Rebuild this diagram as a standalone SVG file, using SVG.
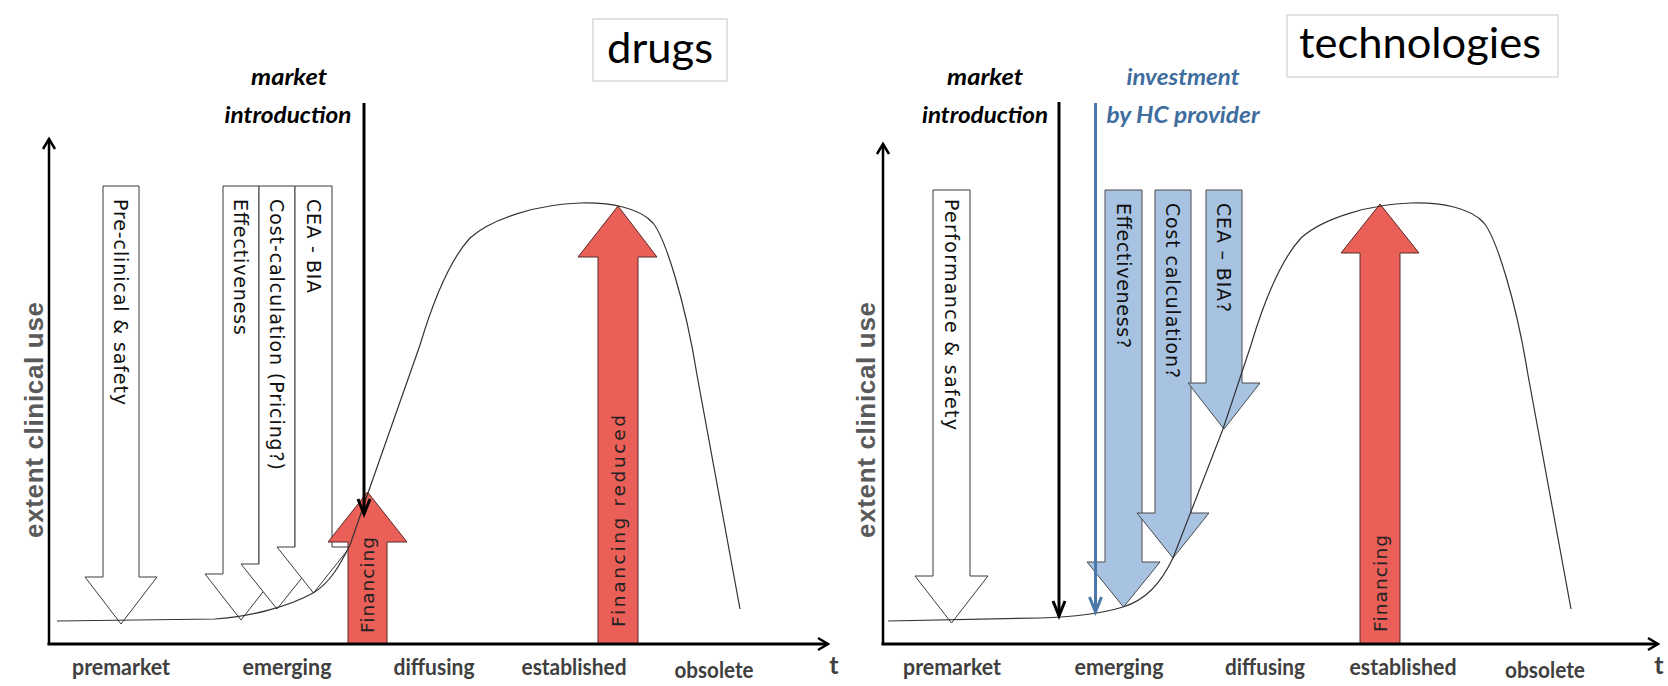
<svg xmlns="http://www.w3.org/2000/svg" width="1668" height="686" viewBox="0 0 1668 686">
<style>
.bg{fill:#fff}
.hollow{fill:#fff;stroke:#3a3a3a;stroke-width:1}
.blue{fill:#a7c3e1;stroke:#4a4a4a;stroke-width:1}
.red{fill:#ea5f58;stroke:#5a2a27;stroke-width:1}
.curve{fill:none;stroke:#333;stroke-width:1.2}
.axis{fill:none;stroke:#000;stroke-width:3}
.yaxis{fill:none;stroke:#000;stroke-width:2.5}
.intro{fill:none;stroke:#000;stroke-width:3}
.hc{fill:none;stroke:#4a78aa;stroke-width:3}
.vt{font-family:"DejaVu Sans","Liberation Sans",sans-serif;font-size:19px;fill:#111}
.ft{font-family:"DejaVu Sans","Liberation Sans",sans-serif;font-size:18.5px;fill:#222}
.lbl{font-family:Lato,"Liberation Sans",sans-serif;font-weight:bold;font-size:23px;fill:#404040;text-anchor:middle}
.ylbl{font-family:"Liberation Sans",Arial,sans-serif;font-weight:bold;font-size:26px;fill:#5a5a5a;text-anchor:middle}
.mi{font-family:Lato,"Liberation Sans",sans-serif;font-weight:bold;font-style:italic;font-size:23px;fill:#000;text-anchor:middle}
.mib{fill:#3e6d9e}
.title{font-family:Lato,"Liberation Sans",sans-serif;font-size:42px;fill:#000;text-anchor:middle}
.tbox{fill:#fff;stroke:#d9d9d9;stroke-width:1.5}
</style>
<defs>
<marker id="chevAxis" markerUnits="userSpaceOnUse" orient="auto" overflow="visible" markerWidth="1" markerHeight="1" refX="0" refY="0">
<path d="M-10,-6 L0,0 L-10,6" fill="none" stroke="#000" stroke-width="2.5" stroke-linejoin="miter"/>
</marker>
<marker id="chevK" markerUnits="userSpaceOnUse" orient="auto" overflow="visible" markerWidth="1" markerHeight="1" refX="0" refY="0">
<path d="M-15,-6 L0,0 L-15,6" fill="none" stroke="#000" stroke-width="3"/>
</marker>
<marker id="chevB" markerUnits="userSpaceOnUse" orient="auto" overflow="visible" markerWidth="1" markerHeight="1" refX="0" refY="0">
<path d="M-15,-6 L0,0 L-15,6" fill="none" stroke="#4a78aa" stroke-width="3"/>
</marker>
</defs>
<rect class="bg" x="0" y="0" width="1668" height="686"/>

<!-- LEFT PANEL: drugs -->
<g id="drugs-title">
<rect class="tbox" x="593" y="19" width="134" height="62"/>
<text class="title" x="660" y="63" textLength="106" lengthAdjust="spacingAndGlyphs">drugs</text>
</g>
<g id="drugs-preclinical">
<polygon class="hollow" points="103,186 139,186 139,577 157,577 121,624 85,577 103,577"/>
<text class="vt" transform="translate(121,199) rotate(90)" x="0" y="7" textLength="206" lengthAdjust="spacing">Pre-clinical &amp; safety</text>
</g>
<g id="drugs-effectiveness">
<polygon class="hollow" points="223,186 259,186 259,574 277,574 241,620 205,574 223,574"/>
<text class="vt" transform="translate(241,199) rotate(90)" x="0" y="7" textLength="136" lengthAdjust="spacing">Effectiveness</text>
</g>
<g id="drugs-costcalc">
<polygon class="hollow" points="259,186 295,186 295,564 313,564 277,609 241,564 259,564"/>
<text class="vt" transform="translate(277,199) rotate(90)" x="0" y="7" textLength="271" lengthAdjust="spacing">Cost-calculation (Pricing?)</text>
</g>
<g id="drugs-cea">
<polygon class="hollow" points="295,186 332,186 332,547 350,547 313.5,593 277,547 295,547"/>
<text class="vt" transform="translate(313.5,199) rotate(90)" x="0" y="7" textLength="94" lengthAdjust="spacing">CEA - BIA</text>
</g>
<g id="drugs-financing">
<polygon class="red" points="348,644 348,542 328,542 367.5,492 407,542 387,542 387,644"/>
<text class="ft" transform="translate(367.5,633) rotate(-90)" x="0" y="6.5" textLength="96" lengthAdjust="spacing">Financing</text>
</g>
<g id="drugs-financing-reduced">
<polygon class="red" points="598,644 598,257 578,257 618,206 657,257 638,257 638,644"/>
<text class="ft" transform="translate(618,627) rotate(-90)" x="0" y="6.5" textLength="212" lengthAdjust="spacing">Financing reduced</text>
</g>
<g id="drugs-market-introduction">
<text class="mi" x="289" y="85" textLength="76" lengthAdjust="spacingAndGlyphs">market</text>
<text class="mi" x="288" y="123" textLength="127" lengthAdjust="spacingAndGlyphs">introduction</text>
</g>
<g id="drugs-axes">
<text class="ylbl" transform="translate(43,420) rotate(-90)" x="0" y="0" textLength="236" lengthAdjust="spacing">extent clinical use</text>
<text class="lbl" x="121" y="675" textLength="98" lengthAdjust="spacingAndGlyphs">premarket</text>
<text class="lbl" x="287" y="675" textLength="89" lengthAdjust="spacingAndGlyphs">emerging</text>
<text class="lbl" x="434" y="675" textLength="81" lengthAdjust="spacingAndGlyphs">diffusing</text>
<text class="lbl" x="574" y="675" textLength="105" lengthAdjust="spacingAndGlyphs">established</text>
<text class="lbl" x="714" y="678" textLength="79" lengthAdjust="spacingAndGlyphs">obsolete</text>
<text class="lbl" x="834" y="674" style="font-size:25px">t</text>
</g>

<!-- RIGHT PANEL: technologies -->
<g id="tech-title">
<rect class="tbox" x="1287" y="15" width="271" height="62"/>
<text class="title" x="1420" y="58" textLength="242" lengthAdjust="spacingAndGlyphs">technologies</text>
</g>
<g id="tech-performance">
<polygon class="hollow" points="933,190 970,190 970,576 988,576 951.5,623 915,576 933,576"/>
<text class="vt" transform="translate(951.5,199) rotate(90)" x="0" y="7" textLength="231" lengthAdjust="spacing">Performance &amp; safety</text>
</g>
<g id="tech-effectiveness">
<polygon class="blue" points="1105,190 1142,190 1142,562 1160,562 1123.5,607 1087,562 1105,562"/>
<text class="vt" transform="translate(1123.5,203) rotate(90)" x="0" y="7" textLength="145" lengthAdjust="spacing">Effectiveness?</text>
</g>
<g id="tech-costcalc">
<polygon class="blue" points="1155,190 1191,190 1191,513 1209,513 1173,558 1137,513 1155,513"/>
<text class="vt" transform="translate(1173,203) rotate(90)" x="0" y="7" textLength="175" lengthAdjust="spacing">Cost calculation?</text>
</g>
<g id="tech-cea">
<polygon class="blue" points="1206,190 1242,190 1242,383 1260,383 1224,429 1188,383 1206,383"/>
<text class="vt" transform="translate(1224,203) rotate(90)" x="0" y="7" textLength="109" lengthAdjust="spacing">CEA – BIA?</text>
</g>
<g id="tech-financing">
<polygon class="red" points="1360,644 1360,253 1341,253 1380,204 1419,253 1400,253 1400,644"/>
<text class="ft" transform="translate(1380,632) rotate(-90)" x="0" y="6.5" textLength="97" lengthAdjust="spacing">Financing</text>
</g>
<g id="tech-market-introduction">
<text class="mi" x="985" y="85" textLength="76" lengthAdjust="spacingAndGlyphs">market</text>
<text class="mi" x="985" y="123" textLength="126" lengthAdjust="spacingAndGlyphs">introduction</text>
</g>
<g id="tech-investment">
<text class="mi mib" x="1183" y="85" textLength="113" lengthAdjust="spacingAndGlyphs">investment</text>
<text class="mi mib" x="1183" y="123" textLength="153" lengthAdjust="spacingAndGlyphs">by HC provider</text>
</g>
<g id="tech-axes">
<text class="ylbl" transform="translate(875,420) rotate(-90)" x="0" y="0" textLength="236" lengthAdjust="spacing">extent clinical use</text>
<text class="lbl" x="952" y="675" textLength="98" lengthAdjust="spacingAndGlyphs">premarket</text>
<text class="lbl" x="1119" y="675" textLength="89" lengthAdjust="spacingAndGlyphs">emerging</text>
<text class="lbl" x="1265" y="675" textLength="80" lengthAdjust="spacingAndGlyphs">diffusing</text>
<text class="lbl" x="1403" y="675" textLength="107" lengthAdjust="spacingAndGlyphs">established</text>
<text class="lbl" x="1545" y="678" textLength="80" lengthAdjust="spacingAndGlyphs">obsolete</text>
<text class="lbl" x="1659" y="674" style="font-size:25px">t</text>
</g>

<!-- CONNECTORS: adoption curves, axes, introduction arrows -->
<g id="connectors">
<path class="curve" d="M57,621 L215,619 C250,617 290,606 313,593 C330,583 340,565 350,545 L368,493 L420,345 C432,305 448,262 470,238 C492,218 540,204 580,203 C610,202 640,208 653,223 C665,238 685,300 697,375 L740,609"/>
<path class="curve" d="M888,621 L1040,618 C1075,617 1100,614 1123,607 C1145,600 1160,585 1173,558 L1223,429 L1251,345 C1263,305 1279,262 1301,238 C1323,218 1371,204 1411,203 C1441,202 1471,208 1484,223 C1496,238 1516,300 1528,375 L1571,609"/>
<line class="yaxis" x1="49" y1="645" x2="49" y2="139" marker-end="url(#chevAxis)"/>
<line class="axis" x1="47.5" y1="644" x2="828" y2="644" marker-end="url(#chevAxis)"/>
<line class="yaxis" x1="883" y1="645" x2="883" y2="144" marker-end="url(#chevAxis)"/>
<line class="axis" x1="881.5" y1="644" x2="1658" y2="644" marker-end="url(#chevAxis)"/>
<line class="intro" x1="364" y1="103" x2="364" y2="514" marker-end="url(#chevK)"/>
<line class="intro" x1="1059" y1="102" x2="1059" y2="616" marker-end="url(#chevK)"/>
<line class="hc" x1="1095.5" y1="103" x2="1095.5" y2="612" marker-end="url(#chevB)"/>
</g>
</svg>
